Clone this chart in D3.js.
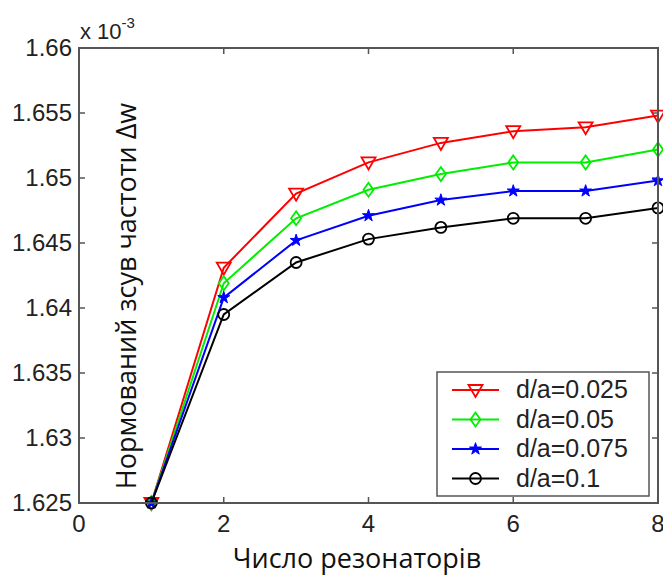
<!DOCTYPE html>
<html>
<head>
<meta charset="utf-8">
<script src="https://cdn.jsdelivr.net/npm/d3@7"></script>
<style>
  body { margin: 0; background: #fff; }
  svg { display: block; }
  .tick-label { font-family: "Liberation Sans", Arial, sans-serif; font-size: 24px; fill: #222; }
  .axis-title { font-family: "Open Sans", "Noto Sans", sans-serif; fill: #111; }
</style>
</head>
<body>
<div id="chart"></div>
<script>
// values are shown in units of 1e-3
const resonators = [1, 2, 3, 4, 5, 6, 7, 8];
const seriesNames = ["d/a=0.025", "d/a=0.05", "d/a=0.075", "d/a=0.1"];
const shift025 = [1.625, 1.6431, 1.6488, 1.6512, 1.6527, 1.6536, 1.6539, 1.6548];
const shift05  = [1.625, 1.6419, 1.6469, 1.6491, 1.6503, 1.6512, 1.6512, 1.6522];
const shift075 = [1.625, 1.6408, 1.6452, 1.6471, 1.6483, 1.6490, 1.6490, 1.6498];
const shift1   = [1.625, 1.6395, 1.6435, 1.6453, 1.6462, 1.6469, 1.6469, 1.6477];
const xTicks = [0, 2, 4, 6, 8];
const yTicks = [1.625, 1.63, 1.635, 1.64, 1.645, 1.65, 1.655, 1.66];

const seriesColors = ["#ff0000", "#00ee00", "#0000ff", "#000000"];
const seriesMarkers = ["triangle", "diamond", "star", "circle"];

const width = 663, height = 579;
const margin = { top: 48, right: 5, bottom: 76, left: 79 };
const innerW = width - margin.left - margin.right;
const innerH = height - margin.top - margin.bottom;

const svg = d3.select("#chart").append("svg")
    .attr("width", width)
    .attr("height", height);

const g = svg.append("g")
    .attr("transform", `translate(${margin.left},${margin.top})`);

const x = d3.scaleLinear().domain([0, 8]).range([0, innerW]);
const y = d3.scaleLinear().domain([1.625, 1.66]).range([innerH, 0]);

const axisColor = "#555";
const tickLen = 6;

// inward ticks on all four sides
xTicks.forEach(t => {
    g.append("line").attr("x1", x(t)).attr("x2", x(t))
        .attr("y1", innerH).attr("y2", innerH - tickLen)
        .attr("stroke", axisColor).attr("stroke-width", 1.5);
    g.append("line").attr("x1", x(t)).attr("x2", x(t))
        .attr("y1", 0).attr("y2", tickLen)
        .attr("stroke", axisColor).attr("stroke-width", 1.5);
    g.append("text").attr("class", "tick-label")
        .attr("x", x(t)).attr("y", innerH + 29)
        .attr("text-anchor", "middle")
        .text(t);
});

yTicks.forEach(t => {
    g.append("line").attr("x1", 0).attr("x2", tickLen)
        .attr("y1", y(t)).attr("y2", y(t))
        .attr("stroke", axisColor).attr("stroke-width", 1.5);
    g.append("line").attr("x1", innerW).attr("x2", innerW - tickLen)
        .attr("y1", y(t)).attr("y2", y(t))
        .attr("stroke", axisColor).attr("stroke-width", 1.5);
    g.append("text").attr("class", "tick-label")
        .attr("x", -7).attr("y", y(t) + 8)
        .attr("text-anchor", "end")
        .text(d3.format("")(+t.toFixed(3)));
});

// exponent label
const expLabel = g.append("text").attr("class", "tick-label")
    .attr("x", 1).attr("y", -9)
    .style("font-size", "22px");
expLabel.append("tspan").text("x 10");
expLabel.append("tspan").attr("dy", -11).style("font-size", "15px").text("-3");

// series
const allSeries = [shift025, shift05, shift075, shift1];

const line = d3.line()
    .x((d, i) => x(resonators[i]))
    .y(d => y(d));

function drawMarker(sel, type, color, cx, cy) {
    if (type === "triangle") {
        sel.append("path")
            .attr("d", `M${cx - 7},${cy - 5}L${cx + 7},${cy - 5}L${cx},${cy + 7}Z`)
            .attr("fill", "none").attr("stroke", color).attr("stroke-width", 1.8);
    } else if (type === "diamond") {
        sel.append("path")
            .attr("d", `M${cx},${cy - 7}L${cx + 5},${cy}L${cx},${cy + 7}L${cx - 5},${cy}Z`)
            .attr("fill", "none").attr("stroke", color).attr("stroke-width", 1.8);
    } else if (type === "star") {
        sel.append("path")
            .attr("d", d3.symbol().type(d3.symbolStar).size(45)())
            .attr("transform", `translate(${cx},${cy})`)
            .attr("fill", color).attr("stroke", color).attr("stroke-width", 1);
    } else {
        sel.append("circle").attr("cx", cx).attr("cy", cy).attr("r", 5.5)
            .attr("fill", "none").attr("stroke", color).attr("stroke-width", 1.8);
    }
}

allSeries.forEach((vals, si) => {
    g.append("path")
        .datum(vals)
        .attr("fill", "none")
        .attr("stroke", seriesColors[si])
        .attr("stroke-width", 2)
        .attr("d", line);
    const mg = g.append("g");
    vals.forEach((v, i) => drawMarker(mg, seriesMarkers[si], seriesColors[si], x(resonators[i]), y(v)));
});

// frame
g.append("rect")
    .attr("width", innerW).attr("height", innerH)
    .attr("fill", "none").attr("stroke", axisColor).attr("stroke-width", 2);

// legend
const legend = svg.append("g").attr("transform", "translate(437,372)");
legend.append("rect")
    .attr("width", 212).attr("height", 124)
    .attr("fill", "#fff").attr("stroke", axisColor).attr("stroke-width", 1.5);

seriesNames.forEach((name, i) => {
    const ly = 18 + i * 29.5;
    legend.append("line")
        .attr("x1", 15).attr("x2", 62).attr("y1", ly).attr("y2", ly)
        .attr("stroke", seriesColors[i]).attr("stroke-width", 2);
    drawMarker(legend, seriesMarkers[i], seriesColors[i], 38.5, ly);
    legend.append("text").attr("class", "tick-label")
        .attr("x", 79).attr("y", ly + 8)
        .style("font-size", "25px")
        .text(name);
});

// axis titles
svg.append("text").attr("class", "axis-title")
    .attr("x", 357).attr("y", 568)
    .attr("text-anchor", "middle")
    .style("font-size", "27px")
    .text("Число резонаторів");

svg.append("text").attr("class", "axis-title")
    .attr("transform", "translate(136,296) rotate(-90)")
    .attr("text-anchor", "middle")
    .style("font-size", "27px")
    .text("Нормований зсув частоти Δw");
</script>
</body>
</html>
